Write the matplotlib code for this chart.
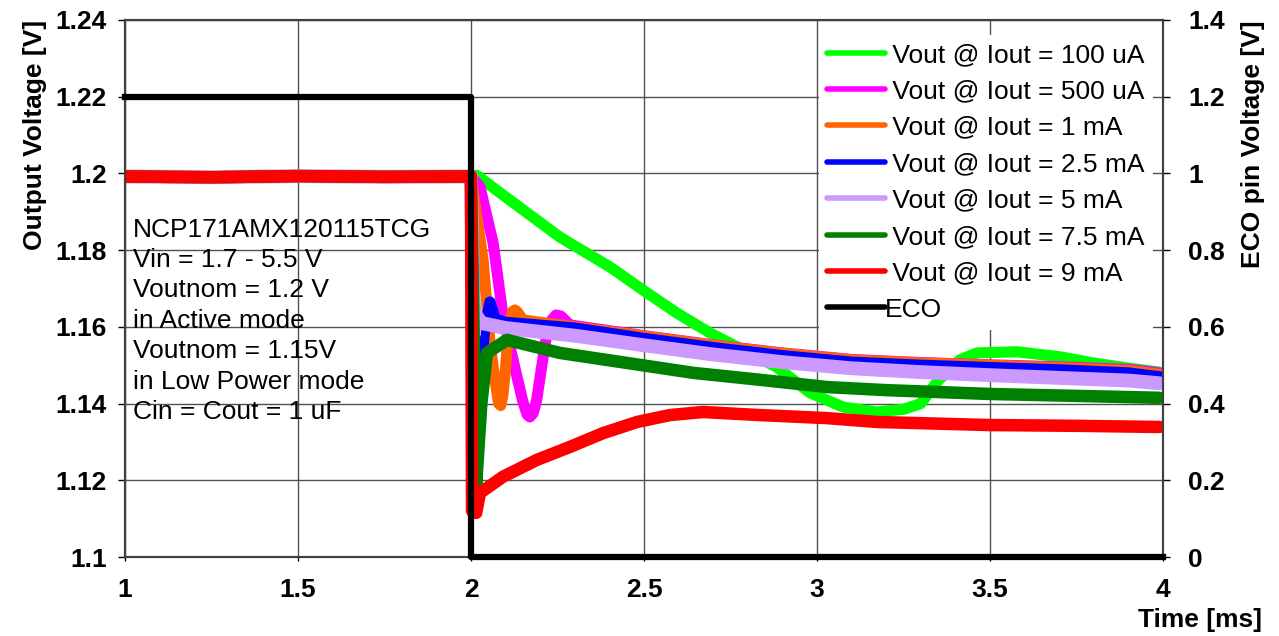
import matplotlib
matplotlib.use("Agg")
import matplotlib.pyplot as plt
from matplotlib.lines import Line2D
from matplotlib.ticker import FuncFormatter

plt.rcParams['font.family'] = ['Liberation Sans', 'DejaVu Sans']

# flat part before the ECO step (all currents sit on top of each other)
t_pre = [1.0, 1.25, 1.5, 1.75, 1.995]
v_pre = [1.1992, 1.1990, 1.1993, 1.1991, 1.1992]

# Vout @ 100 uA
t_100u = [2.0, 2.017, 2.113, 2.257, 2.402, 2.497, 2.595, 2.691, 2.786, 2.884, 2.98,
          3.075, 3.173, 3.25, 3.30, 3.35, 3.413, 3.462, 3.578, 3.702, 3.798, 3.896, 3.99]
v_100u = [1.1993, 1.1995, 1.1930, 1.1834, 1.1756, 1.1696, 1.1636, 1.1584, 1.1540, 1.1495, 1.1428,
          1.1391, 1.1378, 1.1385, 1.1400, 1.1460, 1.1514, 1.1532, 1.1535, 1.1522, 1.1506, 1.1493, 1.1482]

# Vout @ 500 uA
t_500u = [2.0, 2.026, 2.064, 2.093, 2.115, 2.133, 2.15, 2.162, 2.17, 2.18, 2.19, 2.2, 2.21,
          2.22, 2.233, 2.246, 2.26, 2.286, 2.5, 2.7, 2.9, 3.1, 3.3, 3.5, 3.7, 3.9, 3.99]
v_500u = [1.1993, 1.1965, 1.1819, 1.1626, 1.1540, 1.1470, 1.1405, 1.1372, 1.1365, 1.1375,
          1.1410, 1.1470, 1.1530, 1.1584, 1.1618, 1.1631, 1.1628, 1.1605,
          1.1577, 1.1553, 1.1532, 1.1515, 1.1507, 1.1501, 1.1496, 1.1489, 1.1480]

# Vout @ 1 mA
t_1m = [2.0, 2.035, 2.055, 2.065, 2.075, 2.08, 2.086, 2.092, 2.098, 2.105, 2.113, 2.12,
        2.127, 2.135, 2.15, 2.3, 2.5, 2.7, 2.9, 3.1, 3.3, 3.5, 3.7, 3.9, 3.99]
v_1m = [1.1993, 1.1774, 1.1558, 1.1490, 1.1428, 1.1400, 1.1395, 1.1420, 1.1470, 1.1550,
        1.1618, 1.1640, 1.1644, 1.1638, 1.1618,
        1.1600, 1.1576, 1.1552, 1.1531, 1.1514, 1.1506, 1.1500, 1.1494, 1.1486, 1.1476]

# Vout @ 2.5 mA
t_2m5 = [2.0, 2.02, 2.04, 2.055, 2.07, 2.1, 2.3, 2.5, 2.7, 2.9, 3.1, 3.3, 3.5, 3.7, 3.9, 3.99]
v_2m5 = [1.1993, 1.1380, 1.1600, 1.1665, 1.1620, 1.1612, 1.1597, 1.1570, 1.1546, 1.1525,
         1.1508, 1.1500, 1.1494, 1.1488, 1.1480, 1.1470]

# Vout @ 5 mA
t_5m = [2.0, 2.008, 2.015, 2.03, 2.1, 2.3, 2.5, 2.7, 2.9, 3.1, 3.3, 3.5, 3.7, 3.9, 3.99]
v_5m = [1.1993, 1.1580, 1.1630, 1.1610, 1.1597, 1.1577, 1.1552, 1.1528, 1.1508, 1.1492,
        1.1482, 1.1474, 1.1467, 1.1460, 1.1453]

# Vout @ 7.5 mA
t_7m5 = [2.0, 2.015, 2.03, 2.046, 2.104, 2.257, 2.45, 2.643, 2.835, 3.03, 3.2, 3.5, 3.75, 3.99]
v_7m5 = [1.1993, 1.1190, 1.1400, 1.1532, 1.1566, 1.1532, 1.1506, 1.1480, 1.1462, 1.1443,
         1.1435, 1.1425, 1.1420, 1.1415]

# Vout @ 9 mA
t_9m = [2.0, 2.003, 2.015, 2.026, 2.092, 2.19, 2.286, 2.382, 2.48, 2.575, 2.67, 2.835,
        3.03, 3.173, 3.5, 3.75, 3.99]
v_9m = [1.1993, 1.1120, 1.1115, 1.1167, 1.1209, 1.1253, 1.1287, 1.1323, 1.1352, 1.1370,
        1.1378, 1.1370, 1.1362, 1.1352, 1.1344, 1.1342, 1.1339]

# ECO pin (right axis)
t_eco = [1.0, 2.0, 2.0, 4.0]
v_eco = [1.2, 1.2, 0.0, 0.0]

labels = [' Vout @ Iout = 100 uA', ' Vout @ Iout = 500 uA', ' Vout @ Iout = 1 mA',
          ' Vout @ Iout = 2.5 mA', ' Vout @ Iout = 5 mA', ' Vout @ Iout = 7.5 mA',
          ' Vout @ Iout = 9 mA']
colors = ['#00FF00', '#FF00FF', '#FF6600', '#0000FF', '#CC99FF', '#008000', '#FF0000']
series = [(t_100u, v_100u), (t_500u, v_500u), (t_1m, v_1m), (t_2m5, v_2m5),
          (t_5m, v_5m), (t_7m5, v_7m5), (t_9m, v_9m)]
widths = [8, 8, 8, 8, 10, 9, 9]

fs = 19

fig = plt.figure(figsize=(12.79, 6.36), dpi=100)
ax = fig.add_axes([0.0977, 0.1242, 0.8116, 0.8444])
ax2 = ax.twinx()

for (t, v), c, lw in zip(series, colors, widths):
    ax.plot(t_pre + t, v_pre + v, color=c, lw=lw, solid_capstyle='round',
            solid_joinstyle='round', zorder=3)

ax2.plot(t_eco, v_eco, color='black', lw=4.5, clip_on=False, zorder=4)

ax.set_xlim(1, 4)
ax.set_ylim(1.1, 1.24)
ax2.set_ylim(0, 1.4)
ax.set_xticks([1, 1.5, 2, 2.5, 3, 3.5, 4])
ax.set_yticks([1.1 + 0.02 * i for i in range(8)])
ax2.set_yticks([0.2 * i for i in range(8)])
fmt = FuncFormatter(lambda v, p: f'{round(v, 3):g}')
ax.xaxis.set_major_formatter(fmt)
ax.yaxis.set_major_formatter(fmt)
ax2.yaxis.set_major_formatter(fmt)

ax.grid(True, color='#505050', lw=1.0)
ax.set_axisbelow(True)
for a in (ax, ax2):
    for s in a.spines.values():
        s.set_color('#404040')
        s.set_linewidth(1.5)

ax.tick_params(axis='y', direction='out', length=5, width=1, pad=8, labelsize=fs)
ax.tick_params(axis='x', direction='out', length=3, width=1, pad=12, labelsize=fs)
ax2.tick_params(axis='y', direction='out', length=5, width=1, pad=13, labelsize=fs)
for lab in ax.get_xticklabels() + ax.get_yticklabels() + ax2.get_yticklabels():
    lab.set_fontweight('bold')

ax.set_ylabel('Output Voltage [V]', fontsize=fs, fontweight='bold', loc='top', labelpad=6)
ax2.set_ylabel('ECO pin Voltage [V]', fontsize=fs, fontweight='bold', loc='top', labelpad=12)
fig.text(0.987, 0.025, 'Time [ms]', fontsize=fs, fontweight='bold', ha='right', va='center')

ax.text(1.022, 1.1885,
        'NCP171AMX120115TCG\nVin = 1.7 - 5.5 V\nVoutnom = 1.2 V\nin Active mode\n'
        'Voutnom = 1.15V\nin Low Power mode\nCin = Cout = 1 uF',
        fontsize=fs, va='top', ha='left', linespacing=1.34, zorder=5)

handles = [Line2D([], [], color=c, lw=4, solid_capstyle='round') for c in colors]
handles.append(Line2D([], [], color='black', lw=4, solid_capstyle='round'))
leg = ax.legend(handles, labels + ['ECO'], loc='upper right',
                bbox_to_anchor=(0.99, 1 - 15 / 537), borderaxespad=0,
                fontsize=fs, handlelength=2.2, handletextpad=0.0, labelspacing=0.47,
                frameon=True, fancybox=False, framealpha=1, borderpad=0.3)
leg.get_frame().set_edgecolor('none')
leg.set_zorder(10)

fig.savefig('out.png', dpi=100)
